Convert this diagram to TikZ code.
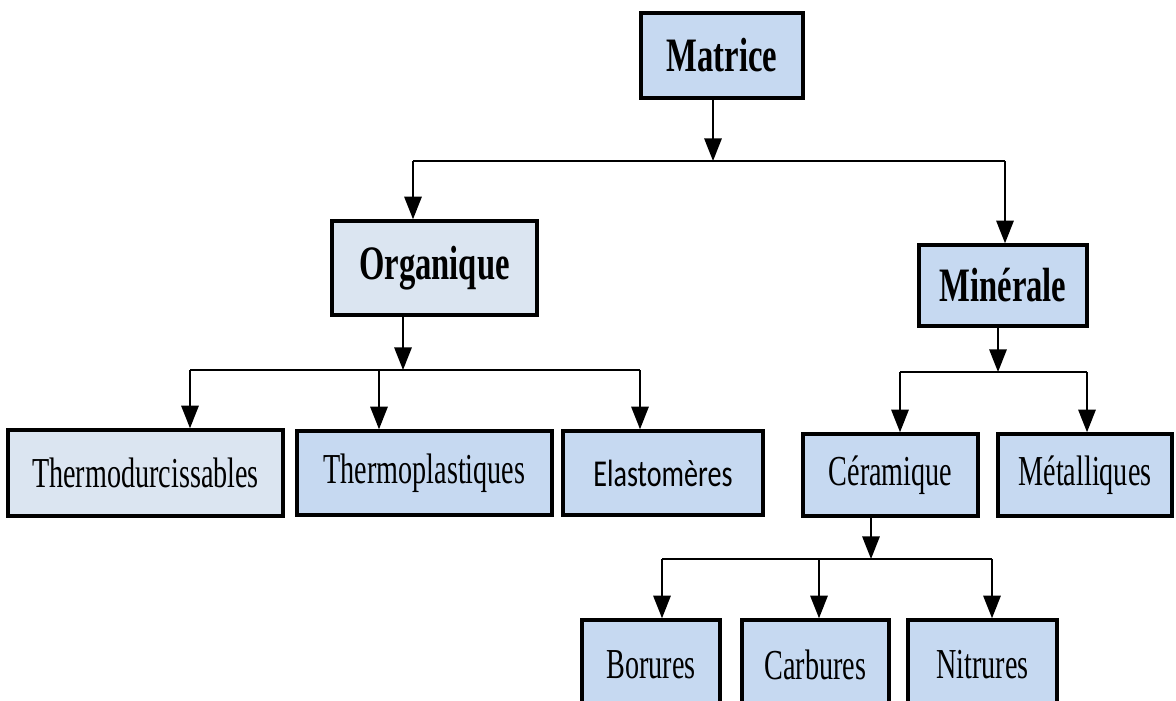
\documentclass[tikz,border=0pt]{standalone}
\usepackage{fontspec}
\setmainfont{Liberation Serif}[FakeStretch=0.66]
\newfontfamily\boldserif{Liberation Serif}[FakeStretch=0.68]
\newfontfamily\sansnarrow{Carlito}[FakeStretch=0.74]
\usetikzlibrary{arrows.meta}
\definecolor{boxblue}{RGB}{198,217,241}
\definecolor{boxpale}{RGB}{219,229,241}
\tikzset{
  x=0.75pt, y=-0.75pt,
  box/.style={draw=black, line width=2.6pt, fill=boxblue, inner sep=0pt, anchor=center,
    font=\fontsize{32}{36}\selectfont},
  palebox/.style={box, fill=boxpale},
  headtext/.style={font=\boldserif\bfseries\fontsize{36}{40}\selectfont},
  conn/.style={line width=1.6pt, draw=black},
  arr/.style={conn, -{Triangle[length=17pt,width=13pt]}},
}
\newcommand{\bx}[6]{\node[#1, minimum width=#4*0.75pt, minimum height=#5*0.75pt] (#6) at (#2,#3)}
\begin{document}
\begin{tikzpicture}
\useasboundingbox (0,0) rectangle (1176,700);
\clip (0,0) rectangle (1176,700);
% nodes
\bx{box,headtext}{722}{55.5}{162}{85}{mat} {Matrice};
\bx{palebox,headtext}{434.5}{268}{205}{94}{org} {Organique};
\bx{box,headtext}{1003}{285.5}{168}{81}{min} {Minérale};
\bx{palebox}{145.5}{473}{275}{86}{tdur} {Thermodurcissables};
\bx{box}{424.5}{473}{255}{84}{tpla} {Thermoplastiques};
\bx{box,font=\sansnarrow\fontsize{28.5}{32}\selectfont}{663}{473}{200}{84}{ela} {Elastomères};
\bx{box}{890.5}{475}{175}{82}{cer} {Céramique};
\bx{box}{1085}{475}{174}{82}{met} {Métalliques};
\bx{box}{651}{665}{138}{90}{bor} {Borures};
\bx{box}{815.5}{665}{147}{90}{car} {Carbures};
\bx{box}{982.5}{665}{149}{90}{nit} {Nitrures};
% junction coordinates
\coordinate (j1) at (713,161);
\coordinate (j1l) at (413,161);
\coordinate (j1r) at (1005,161);
\coordinate (j2) at (403,370);
\coordinate (j2a) at (190,370);
\coordinate (j2b) at (379,370);
\coordinate (j2c) at (640,370);
\coordinate (j3) at (998,372);
\coordinate (j3a) at (900,372);
\coordinate (j3b) at (1087,372);
\coordinate (j4) at (871,559);
\coordinate (j4a) at (662,559);
\coordinate (j4b) at (819,559);
\coordinate (j4c) at (992,559);
% level 1
\draw[arr] (j1 |- mat.south) -- (j1);
\draw[conn, line width=1.9pt] (j1l) -- (j1r);
\draw[arr] (j1l) -- (j1l |- org.north);
\draw[arr] (j1r) -- (j1r |- min.north);
% organique
\draw[arr] (j2 |- org.south) -- (j2);
\draw[conn] (j2a) -- (j2c);
\draw[arr] (j2a) -- (j2a |- tdur.north);
\draw[arr] (j2b) -- (j2b |- tpla.north);
\draw[arr] (j2c) -- (j2c |- ela.north);
% minerale
\draw[arr] (j3 |- min.south) -- (j3);
\draw[conn] (j3a) -- (j3b);
\draw[arr] (j3a) -- (j3a |- cer.north);
\draw[arr] (j3b) -- (j3b |- met.north);
% ceramique
\draw[arr] (j4 |- cer.south) -- (j4);
\draw[conn] (j4a) -- (j4c);
\draw[arr] (j4a) -- (j4a |- bor.north);
\draw[arr] (j4b) -- (j4b |- car.north);
\draw[arr] (j4c) -- (j4c |- nit.north);
\end{tikzpicture}
\end{document}
